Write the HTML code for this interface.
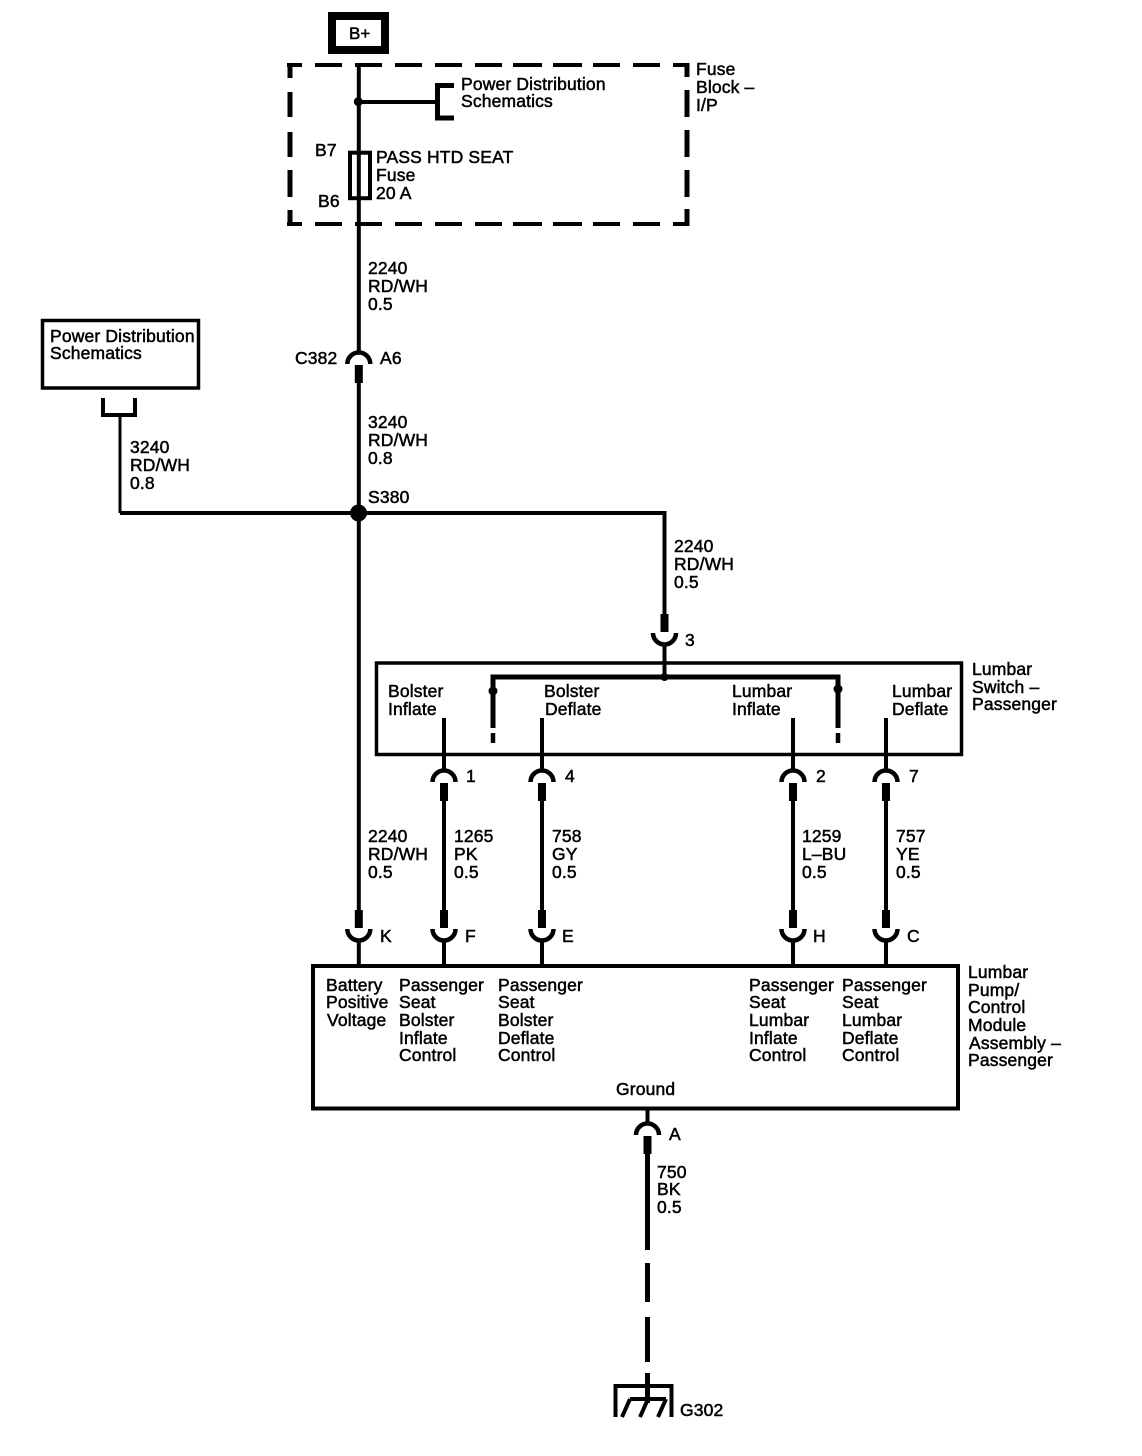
<!DOCTYPE html>
<html><head><meta charset="utf-8"><style>
html,body{margin:0;padding:0;background:#fff}
svg{display:block}
text{font-family:"Liberation Sans",sans-serif;font-size:17.5px;letter-spacing:.15px;fill:#000;stroke:#000;stroke-width:.5px}
text.bp{font-size:17px;letter-spacing:0}
.w{fill:none;stroke:#000;stroke-width:4}
.t{fill:none;stroke:#000;stroke-width:3}
</style></head><body>
<svg width="1142" height="1456" viewBox="0 0 1142 1456" xmlns="http://www.w3.org/2000/svg">
<defs>
<g id="up"><path d="M-11.500 0A11.500 11.500 0 0 1 11.500 0" fill="none" stroke="#000" stroke-width="4.500"/><rect x="-4" y="1" width="8" height="18"/></g>
<g id="dn"><path d="M-11.500 0A11.500 11.500 0 0 0 11.500 0" fill="none" stroke="#000" stroke-width="4.500"/><rect x="-4" y="-19" width="8" height="18"/></g>
</defs>
<rect x="332" y="16" width="53" height="34" fill="#fff" stroke="#000" stroke-width="8"/>
<text class="bp" x="349" y="39">B+</text>
<path d="M287 65H302M315 65H342M355 65H382M395 65H422M435 65H462M475 65H502M513 65H542M553 65H582M593 65H620M633 65H660M673 65H689M673 224H689M660 224H633M620 224H593M582 224H553M542 224H513M502 224H475M462 224H435M422 224H395M382 224H355M342 224H315M302 224H287" fill="none" stroke="#000" stroke-width="4"/>
<path d="M687 63V77M687 90V117M687 130V157M687 170V197M687 209V226M290 226V210M290 197V170M290 157V132M290 117V92M290 78V63" fill="none" stroke="#000" stroke-width="5"/>
<path class="w" d="M358.800 64V353M358.800 381V513"/>
<circle cx="358.300" cy="101.700" r="4.500"/>
<path class="w" d="M358 102H437"/>
<path d="M454 85.500H437.500V118H454" fill="none" stroke="#000" stroke-width="5"/>
<rect x="350" y="152.700" width="20" height="45.500" fill="none" stroke="#000" stroke-width="4"/>
<use href="#up" x="358.800" y="364"/>
<rect x="42.500" y="320.500" width="156" height="67.500" fill="none" stroke="#000" stroke-width="3.500"/>
<path class="w" d="M103 398V415H135V398"/>
<path class="t" d="M120 415V513"/>
<path class="w" d="M120 513H664.500V618"/>
<circle cx="358.500" cy="513" r="8.500"/>
<path class="w" d="M358.800 513V910"/>
<use href="#dn" x="664.500" y="633"/>
<rect x="376.500" y="663" width="585" height="91.500" fill="none" stroke="#000" stroke-width="3.500"/>
<path class="w" d="M664.500 644V677"/>
<path d="M493 728V677H838V728" fill="none" stroke="#000" stroke-width="5"/>
<path d="M493 733V743M838 733V743" fill="none" stroke="#000" stroke-width="4.500"/>
<circle cx="664.500" cy="677" r="4"/><circle cx="493" cy="691" r="4.500"/><circle cx="838" cy="689" r="4.500"/>
<path class="w" d="M444 718V770M542 718V770M793 718V770M886 718V770"/>
<use href="#up" x="444" y="782"/><use href="#up" x="542" y="782"/><use href="#up" x="793" y="782"/><use href="#up" x="886" y="782"/>
<path class="w" d="M444 800V912M542 800V912M793 800V912M886 800V912"/>
<use href="#dn" x="358.800" y="929"/><use href="#dn" x="444" y="929"/><use href="#dn" x="542" y="929"/><use href="#dn" x="793" y="929"/><use href="#dn" x="886" y="929"/>
<path class="w" d="M358.800 941V966M444 941V966M542 941V966M793 941V966M886 941V966"/>
<rect x="313" y="966" width="645" height="142.500" fill="none" stroke="#000" stroke-width="4"/>
<path class="w" d="M647.500 1109V1124"/>
<use href="#up" x="647.500" y="1135"/>
<path d="M647.500 1150V1250M647.500 1263V1302M647.500 1317V1362M647.500 1373V1403" fill="none" stroke="#000" stroke-width="5"/>
<path d="M615.500 1417V1386H671.500V1417" fill="none" stroke="#000" stroke-width="4"/>
<path class="w" d="M630 1399H666M630 1399L622 1417M648 1399L640 1417M666 1399L658 1417"/>

<text x="461" y="90">Power Distribution</text><text x="461" y="107">Schematics</text>
<text x="696" y="75">Fuse</text><text x="696" y="93">Block –</text><text x="696" y="111">I/P</text>
<text x="315" y="156">B7</text><text x="318" y="207">B6</text>
<text x="376" y="163">PASS HTD SEAT</text><text x="376" y="181">Fuse</text><text x="376" y="199">20 A</text>
<text x="368" y="274">2240</text><text x="368" y="292">RD/WH</text><text x="368" y="310">0.5</text>
<text x="50" y="342">Power Distribution</text><text x="50" y="359">Schematics</text>
<text x="295" y="364">C382</text><text x="380" y="364">A6</text>
<text x="368" y="428">3240</text><text x="368" y="446">RD/WH</text><text x="368" y="464">0.8</text>
<text x="130" y="453">3240</text><text x="130" y="471">RD/WH</text><text x="130" y="489">0.8</text>
<text x="368" y="503">S380</text>
<text x="674" y="552">2240</text><text x="674" y="570">RD/WH</text><text x="674" y="588">0.5</text>
<text x="685" y="646">3</text>
<text x="972" y="675">Lumbar</text><text x="972" y="693">Switch –</text><text x="972" y="710">Passenger</text>
<text x="388" y="697">Bolster</text><text x="388" y="715">Inflate</text>
<text x="544" y="697">Bolster</text><text x="545" y="715">Deflate</text>
<text x="732" y="697">Lumbar</text><text x="732" y="715">Inflate</text>
<text x="892" y="697">Lumbar</text><text x="892" y="715">Deflate</text>
<text x="466" y="782">1</text><text x="565" y="782">4</text><text x="816" y="782">2</text><text x="909" y="782">7</text>
<text x="368" y="842">2240</text><text x="368" y="860">RD/WH</text><text x="368" y="878">0.5</text>
<text x="454" y="842">1265</text><text x="454" y="860">PK</text><text x="454" y="878">0.5</text>
<text x="552" y="842">758</text><text x="552" y="860">GY</text><text x="552" y="878">0.5</text>
<text x="802" y="842">1259</text><text x="802" y="860">L–BU</text><text x="802" y="878">0.5</text>
<text x="896" y="842">757</text><text x="896" y="860">YE</text><text x="896" y="878">0.5</text>
<text x="380" y="942">K</text><text x="465" y="942">F</text><text x="562" y="942">E</text><text x="813" y="942">H</text><text x="907" y="942">C</text>
<text x="968" y="978">Lumbar</text><text x="968" y="996">Pump/</text><text x="968" y="1013">Control</text><text x="968" y="1031">Module</text><text x="969" y="1049">Assembly –</text><text x="968" y="1066">Passenger</text>
<text x="326" y="991">Battery</text><text x="326" y="1008">Positive</text><text x="327" y="1026">Voltage</text>
<text x="399" y="991">Passenger</text><text x="399" y="1008">Seat</text><text x="399" y="1026">Bolster</text><text x="399" y="1044">Inflate</text><text x="399" y="1061">Control</text>
<text x="498" y="991">Passenger</text><text x="498" y="1008">Seat</text><text x="498" y="1026">Bolster</text><text x="498" y="1044">Deflate</text><text x="498" y="1061">Control</text>
<text x="749" y="991">Passenger</text><text x="749" y="1008">Seat</text><text x="749" y="1026">Lumbar</text><text x="749" y="1044">Inflate</text><text x="749" y="1061">Control</text>
<text x="842" y="991">Passenger</text><text x="842" y="1008">Seat</text><text x="842" y="1026">Lumbar</text><text x="842" y="1044">Deflate</text><text x="842" y="1061">Control</text>
<text x="616" y="1095">Ground</text>
<text x="669" y="1140">A</text>
<text x="657" y="1178">750</text><text x="657" y="1195">BK</text><text x="657" y="1213">0.5</text>
<text x="680" y="1416">G302</text>
</svg>
</body></html>
